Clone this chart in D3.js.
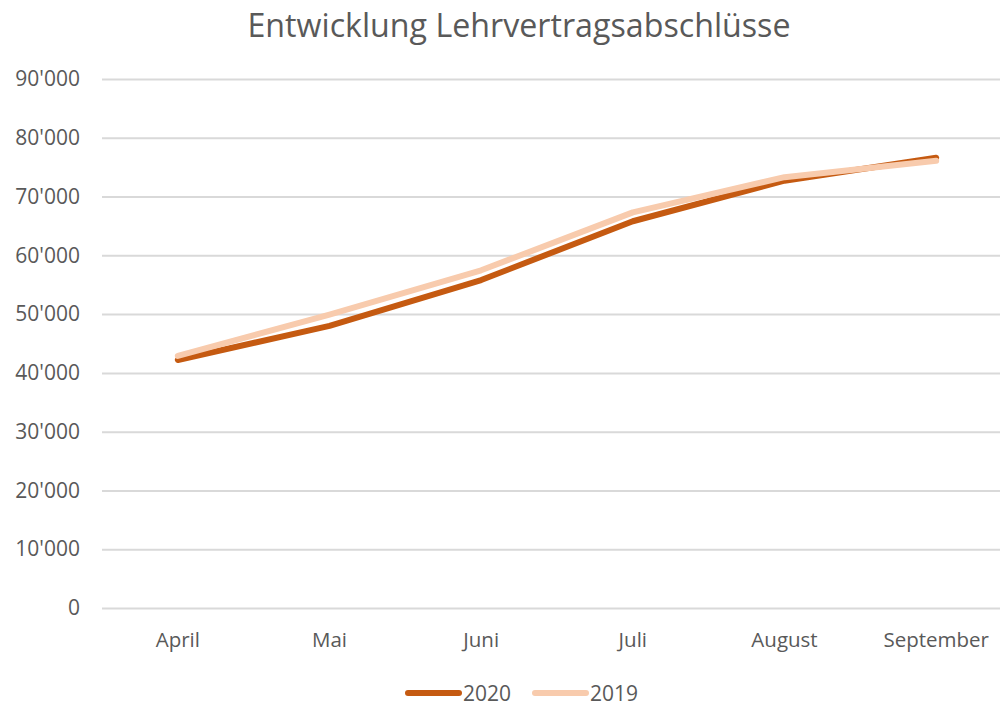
<!DOCTYPE html>
<html><head><meta charset="utf-8">
<script src="https://cdn.jsdelivr.net/npm/d3@7"></script>
<style>body{margin:0;background:#fff;}svg{display:block;font-family:"Open Sans",sans-serif;}</style>
</head><body><svg id="c" width="1000" height="709"></svg>
<script>
const months = ["April","Mai","Juni","Juli","August","September"];
const values2020 = [42200, 48000, 55800, 65800, 72700, 76600];
const values2019 = [42900, 49900, 57450, 67300, 73300, 76100];
const yTicks = [0,10000,20000,30000,40000,50000,60000,70000,80000,90000];
const seriesNames = ["2020","2019"];
const colors = ["#C55A11","#F8CBAD"];

const svg = d3.select("#c");
const x = d3.scaleBand().domain(months).range([102, 1012]);
const y = d3.scaleLinear().domain([0, 90000]).range([608, 79]);
const fmt = v => v === 0 ? "0" : d3.format(",")(v).replace(/,/g, "'");

svg.append("text").attr("x", 519).attr("y", 37).attr("text-anchor","middle")
  .attr("fill","#595959").attr("font-size", 32.2).text("Entwicklung Lehrvertragsabschlüsse");

const gy = svg.append("g").attr("transform","translate(102,0)")
  .call(d3.axisLeft(y).tickValues(yTicks).tickFormat(fmt).tickSize(-898).tickPadding(22));
gy.select(".domain").remove();
gy.selectAll(".tick line").attr("stroke","#D9D9D9").attr("stroke-width",2);
gy.selectAll(".tick text").attr("fill","#595959").attr("font-size",21).attr("font-family","Open Sans");

const gx = svg.append("g").attr("transform","translate(0,608)")
  .call(d3.axisBottom(x).tickSize(0).tickPadding(24));
gx.select(".domain").remove();
gx.selectAll(".tick text").attr("fill","#595959").attr("font-size",20.5).attr("font-family","Open Sans");

const line = d3.line().x((d,i)=>x(months[i])+x.bandwidth()/2).y(d=>y(d));
[values2020, values2019].forEach((vals,k)=>{
  svg.append("path").datum(vals).attr("d", line).attr("fill","none")
    .attr("stroke", colors[k]).attr("stroke-width", 6)
    .attr("stroke-linecap","round").attr("stroke-linejoin","round");
});

const legX = [405, 532];
seriesNames.forEach((n,k)=>{
  const g = svg.append("g");
  g.append("line").attr("x1",legX[k]+3).attr("x2",legX[k]+54).attr("y1",693).attr("y2",693)
    .attr("stroke",colors[k]).attr("stroke-width",6).attr("stroke-linecap","round");
  g.append("text").attr("x",legX[k]+58).attr("y",700.5).attr("fill","#595959")
    .attr("font-size",21).text(n);
});
</script></body></html>
